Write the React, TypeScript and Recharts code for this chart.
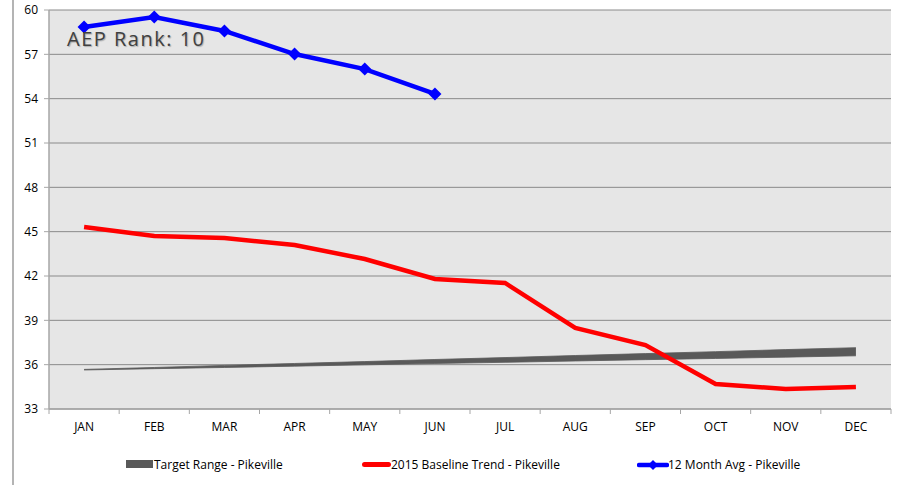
import React from "react";
import { ComposedChart, Line, Area, XAxis, YAxis, CartesianGrid } from "recharts";

const months = ["JAN", "FEB", "MAR", "APR", "MAY", "JUN", "JUL", "AUG", "SEP", "OCT", "NOV", "DEC"];
const targetLow = [35.64, 35.73, 35.81, 35.9, 35.99, 36.08, 36.16, 36.25, 36.34, 36.42, 36.51, 36.6];
const targetHigh = [35.68, 35.81, 35.95, 36.08, 36.21, 36.35, 36.48, 36.62, 36.75, 36.88, 37.02, 37.15];
const baseline2015 = [45.32, 44.71, 44.57, 44.1, 43.15, 41.8, 41.53, 38.48, 37.33, 34.69, 34.36, 34.49];
const avg12 = [58.85, 59.53, 58.58, 57.02, 56.0, 54.32, null, null, null, null, null, null];
const yTicks = [33, 36, 39, 42, 45, 48, 51, 54, 57, 60];

const data = months.map((m, i) => ({
  month: m,
  target: [targetLow[i], targetHigh[i]],
  baseline: baseline2015[i],
  avg: avg12[i],
}));

const FONT = "'Open Sans', 'Noto Sans', sans-serif";
const HALF = 842 / 12 / 2;

const Diamond = (props: any) => {
  const { cx, cy, index } = props;
  if (cx == null || cy == null || props.value == null) return <g key={index} />;
  const r = 6.5;
  return (
    <polygon
      key={index}
      points={`${cx},${cy - r} ${cx + r},${cy} ${cx},${cy + r} ${cx - r},${cy}`}
      fill="#0000ff"
    />
  );
};

const XTick = (props: any) => {
  const { x, y, payload, index } = props;
  return (
    <g>
      <line x1={x - HALF} x2={x - HALF} y1={409} y2={414} stroke="#a6a6a6" strokeWidth={1} />
      {index === 11 && (
        <line x1={x + HALF} x2={x + HALF} y1={409} y2={414} stroke="#a6a6a6" strokeWidth={1} />
      )}
      <text x={x} y={y + 14} textAnchor="middle" fontSize={12} fill="#000" fontFamily={FONT}>
        {payload.value}
      </text>
    </g>
  );
};

export default function App() {
  return (
    <div style={{ position: "absolute", left: 0, top: 0, width: 924, height: 485, background: "#fff", overflow: "hidden" }}>
      <div style={{ position: "absolute", left: 12, top: 0, width: 2, height: 485, background: "#b4b4b4" }} />
      <ComposedChart
        width={924}
        height={485}
        data={data}
        margin={{ top: 10, right: 33, left: 0, bottom: 46 }}
        style={{ position: "absolute", left: 0, top: 0 }}
      >
        <CartesianGrid vertical={false} stroke="#8a8a8a" strokeWidth={1} fill="#e6e6e6" />
        <XAxis
          dataKey="month"
          height={30}
          padding={{ left: HALF, right: HALF }}
          tick={<XTick />}
          tickLine={false}
          axisLine={{ stroke: "#a6a6a6", strokeWidth: 1.5 }}
          interval={0}
        />
        <YAxis
          width={49}
          domain={[33, 60]}
          ticks={yTicks}
          interval={0}
          tickSize={5}
          tickMargin={6}
          tickLine={{ stroke: "#a6a6a6" }}
          axisLine={{ stroke: "#a6a6a6", strokeWidth: 1.5 }}
          tick={{ fontSize: 12, fill: "#000", fontFamily: FONT }}
        />
        <Area
          dataKey="target"
          type="linear"
          stroke="#595959"
          strokeWidth={0.8}
          fill="#595959"
          fillOpacity={1}
          isAnimationActive={false}
          dot={false}
          activeDot={false}
        />
        <Line
          dataKey="baseline"
          type="linear"
          stroke="#ff0000"
          strokeWidth={4.5}
          dot={false}
          activeDot={false}
          isAnimationActive={false}
        />
        <Line
          dataKey="avg"
          type="linear"
          stroke="#0000ff"
          strokeWidth={4.5}
          dot={<Diamond />}
          activeDot={false}
          connectNulls={false}
          isAnimationActive={false}
        />
      </ComposedChart>
      <div
        style={{
          position: "absolute",
          left: 67,
          top: 25,
          fontFamily: FONT,
          fontSize: 20,
          letterSpacing: 1.5,
          color: "#404040",
          textShadow: "1px 1px 1px rgba(0,0,0,0.25)",
          whiteSpace: "nowrap",
        }}
      >
        AEP Rank: 10
      </div>
      <div style={{ position: "absolute", top: 456, left: 0, width: 924, height: 16, fontFamily: FONT, fontSize: 12, color: "#000" }}>
        <div style={{ position: "absolute", left: 126, top: 4, width: 27, height: 8, background: "#595959" }} />
        <div style={{ position: "absolute", left: 154, top: 0, whiteSpace: "nowrap" }}>Target Range - Pikeville</div>
        <div style={{ position: "absolute", left: 362, top: 6, width: 29, height: 5, borderRadius: 3, background: "#ff0000" }} />
        <div style={{ position: "absolute", left: 391, top: 0, whiteSpace: "nowrap" }}>2015 Baseline Trend - Pikeville</div>
        <svg style={{ position: "absolute", left: 637, top: 2 }} width={32} height={14}>
          <line x1={2} y1={7} x2={30} y2={7} stroke="#0000ff" strokeWidth={4.5} strokeLinecap="round" />
          <polygon points="16,2 21,7 16,12 11,7" fill="#0000ff" />
        </svg>
        <div style={{ position: "absolute", left: 668, top: 0, whiteSpace: "nowrap" }}>12 Month Avg - Pikeville</div>
      </div>
    </div>
  );
}
